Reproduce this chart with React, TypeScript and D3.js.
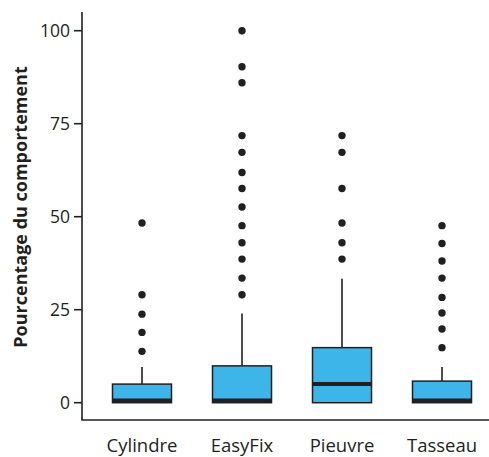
import React from "react";
import * as d3 from "d3";

const categories = ["Cylindre", "EasyFix", "Pieuvre", "Tasseau"];
const q1 = [0, 0, 0, 0];
const medians = [0.6, 0.6, 5.0, 0.6];
const q3 = [5.0, 9.9, 14.8, 5.8];
const whiskerLow = [0, 0, 0, 0];
const whiskerHigh = [9.6, 24.0, 33.3, 9.6];
const outliers = [
  [13.8, 18.9, 23.8, 29.0, 48.3],
  [29.0, 33.5, 38.6, 43.0, 47.6, 52.6, 57.6, 61.9, 67.3, 71.8, 86.0, 90.3, 100],
  [38.6, 43.0, 48.3, 57.6, 67.3, 71.8],
  [14.8, 19.8, 24.1, 28.3, 33.5, 38.1, 42.8, 47.6],
];
const yTicks = [0, 25, 50, 75, 100];

const W = 489;
const H = 457;
const ink = "#231f20";
const fill = "#3db5e9";
const font = "'Open Sans', 'Noto Sans', sans-serif";

export default function App() {
  const y = d3.scaleLinear().domain([0, 100]).range([402.7, 30.7]);
  const x = d3
    .scaleBand<string>()
    .domain(categories)
    .range([92, 492])
    .paddingInner(0.41)
    .paddingOuter(0.205);
  const bw = x.bandwidth();
  const axisX = 82;
  const axisY = 420;

  return (
    <svg
      width={W}
      height={H}
      style={{ position: "absolute", left: 0, top: 0 }}
      fontFamily={font}
    >
      <line x1={axisX} x2={axisX} y1={12} y2={axisY} stroke={ink} strokeWidth={1.6} />
      <line x1={axisX - 0.8} x2={489} y1={axisY} y2={axisY} stroke={ink} strokeWidth={1.6} />
      {yTicks.map((t) => (
        <g key={t}>
          <line x1={axisX - 8} x2={axisX} y1={y(t)} y2={y(t)} stroke={ink} strokeWidth={1.6} />
          <text
            x={axisX - 12}
            y={y(t)}
            dy="0.36em"
            textAnchor="end"
            fontSize={17.5}
            fill={ink}
          >
            {t}
          </text>
        </g>
      ))}
      <text
        transform={`translate(27, 207) rotate(-90)`}
        textAnchor="middle"
        fontSize={18}
        fontWeight="bold"
        fill={ink}
      >
        Pourcentage du comportement
      </text>
      {categories.map((c, i) => {
        const x0 = x(c)!;
        const cx = x0 + bw / 2;
        return (
          <g key={c}>
            <line x1={cx} x2={cx} y1={y(whiskerHigh[i])} y2={y(q3[i])} stroke={ink} strokeWidth={1.6} />
            <line x1={cx} x2={cx} y1={y(whiskerLow[i])} y2={y(q1[i])} stroke={ink} strokeWidth={1.6} />
            <rect
              x={x0}
              y={y(q3[i])}
              width={bw}
              height={y(q1[i]) - y(q3[i])}
              fill={fill}
              stroke={ink}
              strokeWidth={1.5}
            />
            <line
              x1={x0}
              x2={x0 + bw}
              y1={Math.min(y(medians[i]), y(q1[i]) - 2)}
              y2={Math.min(y(medians[i]), y(q1[i]) - 2)}
              stroke={ink}
              strokeWidth={4}
            />
            {outliers[i].map((o, j) => (
              <circle key={j} cx={cx} cy={y(o)} r={3.7} fill={ink} />
            ))}
            <text
              x={cx}
              y={452}
              textAnchor="middle"
              fontSize={18.5}
              fill={ink}
            >
              {c}
            </text>
          </g>
        );
      })}
    </svg>
  );
}
